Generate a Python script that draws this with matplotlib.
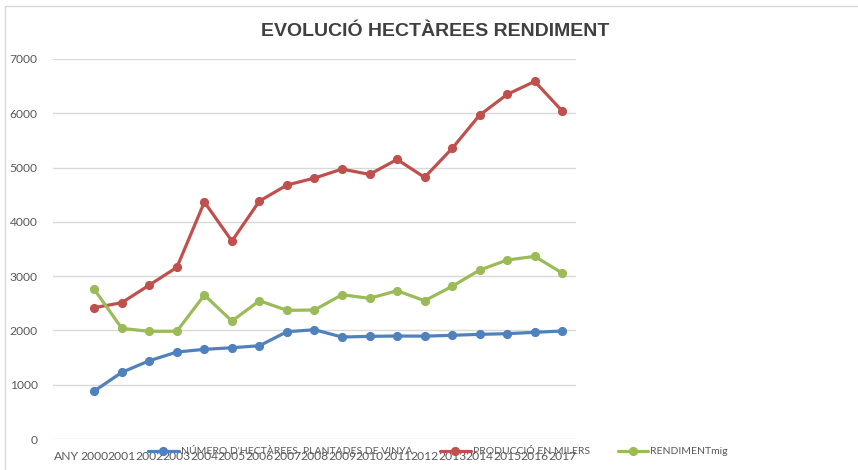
import numpy as np
import matplotlib
matplotlib.use("Agg")
import matplotlib.pyplot as plt
from matplotlib.patches import Rectangle

categories = ["ANY", "2000", "2001", "2002", "2003", "2004", "2005", "2006", "2007", "2008",
              "2009", "2010", "2011", "2012", "2013", "2014", "2015", "2016", "2017"]
hectarees = [np.nan, 884, 1228, 1442, 1602, 1652, 1681, 1718, 1976, 2013,
             1878, 1891, 1897, 1895, 1910, 1928, 1940, 1965, 1989]
produccio = [np.nan, 2419, 2511, 2836, 3162, 4365, 3646, 4383, 4678, 4807,
             4972, 4874, 5150, 4819, 5353, 5967, 6348, 6587, 6041]
rendiment = [np.nan, 2757, 2038, 1983, 1985, 2652, 2173, 2547, 2370, 2376,
             2658, 2591, 2731, 2547, 2812, 3112, 3297, 3364, 3057]
series_names = ["NÚMERO D'HECTÀREES, PLANTADES DE VINYA", "PRODUCCIÓ EN MILERS", "RENDIMENTmig"]
colors = ["#4F81BD", "#C0504D", "#9BBB59"]
yticks = [0, 1000, 2000, 3000, 4000, 5000, 6000, 7000]
title = "EVOLUCIÓ HECTÀREES RENDIMENT"

W, H = 858, 470
fig = plt.figure(figsize=(W / 100, H / 100), dpi=100)
fig.patch.set_facecolor("white")

left, right, top, bottom = 53, 576, 59, 439
ax = fig.add_axes([left / W, 1 - bottom / H, (right - left) / W, (bottom - top) / H])

x = np.arange(len(categories))
lines = []
for vals, name, c in zip([hectarees, produccio, rendiment], series_names, colors):
    ln, = ax.plot(x, vals, color=c, lw=2.3, marker="o", markersize=5.6,
                  solid_capstyle="round", solid_joinstyle="round", label=name, zorder=3)
    lines.append(ln)

ax.set_xlim(-0.5, len(categories) - 0.5)
ax.set_ylim(0, 7000)
ax.set_yticks(yticks)
ax.set_yticklabels([str(v) for v in yticks])
ax.set_xticks(x)
ax.set_xticklabels(categories)
ax.grid(axis="y", color="#D9D9D9", lw=1)
ax.set_axisbelow(True)
for s in ax.spines.values():
    s.set_visible(False)
ax.tick_params(axis="both", length=0, labelsize=8.7, labelcolor="#595959")
ax.tick_params(axis="y", pad=11)
ax.tick_params(axis="x", pad=9)
for lab in ax.get_xticklabels() + ax.get_yticklabels():
    lab.set_family("Lato")

fig.text(435 / W, 1 - 31 / H, title, ha="center", va="center", fontsize=14,
         fontweight="bold", color="#404040", family="Liberation Sans")

leg = fig.legend(handles=lines, loc="center", bbox_to_anchor=(438 / W, 1 - 451 / H),
                 ncol=3, frameon=False, handlelength=2.9, handletextpad=0.2,
                 columnspacing=2.7, prop={"family": "Lato", "size": 7.5})
for t in leg.get_texts():
    t.set_color("#595959")

fig.patches.append(Rectangle((5 / W, -0.1), 1.2, (H - 6) / H + 0.1, transform=fig.transFigure,
                             fill=False, edgecolor="#D9D9D9", lw=1))

fig.savefig("out.png", dpi=100)
